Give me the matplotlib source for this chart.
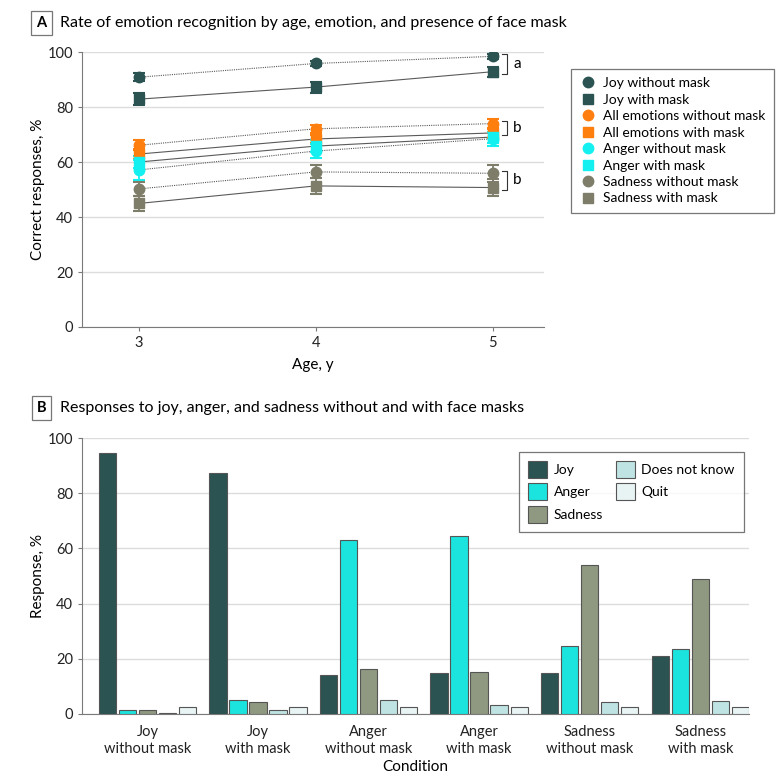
import matplotlib
matplotlib.use("Agg")
import matplotlib.pyplot as plt
import numpy as np

plt.rcParams["font.family"] = ["Lato", "DejaVu Sans"]

# Panel A data: correct responses (%) by age
ages = [3, 4, 5]
series_names = [
    "Joy without mask", "Joy with mask",
    "All emotions without mask", "All emotions with mask",
    "Anger without mask", "Anger with mask",
    "Sadness without mask", "Sadness with mask",
]
joy_no_mask = [91.0, 96.0, 98.6]
joy_mask = [83.0, 87.4, 93.0]
all_no_mask = [66.2, 72.2, 74.1]
all_mask = [63.0, 68.5, 70.7]
anger_no_mask = [57.2, 64.1, 68.6]
anger_mask = [60.1, 65.9, 69.2]
sad_no_mask = [50.3, 56.5, 56.0]
sad_mask = [45.0, 51.4, 50.8]

joy_no_mask_err = [1.5, 1.0, 1.0]
joy_mask_err = [2.2, 2.0, 1.8]
all_no_mask_err = [1.8, 1.5, 1.8]
all_mask_err = [1.8, 1.5, 1.8]
anger_no_mask_err = [3.6, 2.6, 2.6]
anger_mask_err = [2.2, 2.2, 2.0]
sad_no_mask_err = [2.4, 2.4, 3.0]
sad_mask_err = [2.7, 2.8, 3.2]

# Panel B data: response distribution (%) by condition
conditions = ["Joy\nwithout mask", "Joy\nwith mask", "Anger\nwithout mask",
              "Anger\nwith mask", "Sadness\nwithout mask", "Sadness\nwith mask"]
resp_joy = [94.8, 87.3, 13.9, 14.8, 14.8, 20.8]
resp_anger = [1.2, 4.9, 63.0, 64.5, 24.6, 23.6]
resp_sadness = [1.2, 4.1, 16.2, 15.0, 54.0, 48.8]
resp_dnk = [0.4, 1.3, 5.0, 3.2, 4.4, 4.6]
resp_quit = [2.3, 2.3, 2.3, 2.3, 2.3, 2.3]
response_names = ["Joy", "Anger", "Sadness", "Does not know", "Quit"]

JOY = "#2a5352"
ORANGE = "#ff7f0e"
CYAN = "#14f0f0"
SAD = "#7d7d6a"
GRID = "#dcdcdc"
SPINE = "#7a7a7a"
LINE = "#5a5a5a"

fig = plt.figure(figsize=(7.8, 7.82), dpi=100)


def panel_label(y, letter, text):
    fig.text(41.5 / 780, y, letter, ha="center", va="center", fontsize=10.5, fontweight="bold",
             bbox=dict(boxstyle="square,pad=0.35", fc="white", ec="#777777", lw=0.9))
    fig.text(60 / 780, y, text, ha="left", va="center", fontsize=11.5)


def style_axes(ax):
    ax.spines["top"].set_visible(False)
    ax.spines["right"].set_visible(False)
    ax.spines["left"].set_color(SPINE)
    ax.spines["bottom"].set_color(SPINE)
    ax.tick_params(colors=SPINE, labelcolor="#222222", labelsize=10.5, length=3)
    ax.set_ylim(0, 100)
    ax.set_yticks(range(0, 101, 20))
    ax.yaxis.grid(True, color=GRID, lw=1)
    ax.set_axisbelow(True)


# ---------------- Panel A ----------------
panel_label(1 - 23 / 782, "A", "Rate of emotion recognition by age, emotion, and presence of face mask")
axA = fig.add_axes([82 / 780, 1 - 327 / 782, 462 / 780, 274.5 / 782])
style_axes(axA)

panel_series = [
    (joy_no_mask, joy_no_mask_err, JOY, "o", ":"),
    (joy_mask, joy_mask_err, JOY, "s", "-"),
    (all_no_mask, all_no_mask_err, ORANGE, "o", ":"),
    (all_mask, all_mask_err, ORANGE, "s", "-"),
    (anger_no_mask, anger_no_mask_err, CYAN, "o", ":"),
    (anger_mask, anger_mask_err, CYAN, "s", "-"),
    (sad_no_mask, sad_no_mask_err, SAD, "o", ":"),
    (sad_mask, sad_mask_err, SAD, "s", "-"),
]

handles = []
for name, (vals, err, color, marker, ls) in zip(series_names, panel_series):
    axA.plot(ages, vals, color=LINE, lw=0.8, linestyle=(0, (1, 1)) if ls == ":" else "-", zorder=2)
    axA.errorbar(ages, vals, yerr=err, fmt="none", ecolor=color, elinewidth=1.3,
                 capsize=4.5, capthick=1.5, zorder=3)
    h, = axA.plot(ages, vals, linestyle="none", marker=marker, color=color,
                  markersize=7.5 if marker == "o" else 7, zorder=4, label=name)
    handles.append(h)

# significance brackets at age 5
brackets = [(joy_no_mask, joy_mask, "a"), (all_no_mask, all_mask, "b"), (sad_no_mask, sad_mask, "b")]
for top, bot, lab in brackets:
    y1 = top[-1] + 0.8
    y2 = bot[-1] - 0.8
    x0, x1 = ages[-1] + 0.055, ages[-1] + 0.08
    axA.plot([x0, x1, x1, x0], [y1, y1, y2, y2], color="#333333", lw=0.8, clip_on=False)
    axA.text(x1 + 0.035, (y1 + y2) / 2, lab, ha="left", va="center", fontsize=11)

axA.set_xlim(2.68, 5.29)
axA.set_xticks(ages)
axA.set_xlabel("Age, y", fontsize=11, labelpad=6)
axA.set_ylabel("Correct responses, %", fontsize=11, labelpad=2)

legA = fig.legend(handles=handles, loc="upper left", bbox_to_anchor=(571 / 780, 1 - 69 / 782),
                  fontsize=10, frameon=True, fancybox=False, edgecolor="#555555",
                  labelspacing=0.32, handletextpad=0.5, borderpad=0.6, handlelength=1.2,
                  borderaxespad=0)
legA.get_frame().set_linewidth(0.9)

# ---------------- Panel B ----------------
panel_label(1 - 408 / 782, "B", "Responses to joy, anger, and sadness without and with face masks")
axB = fig.add_axes([82 / 780, 1 - 713.7 / 782, 667 / 780, 275.4 / 782])
style_axes(axB)

resp_series = [resp_joy, resp_anger, resp_sadness, resp_dnk, resp_quit]
resp_colors = [JOY, "#1be3dd", "#8f9880", "#bfe3e3", "#e8f3f3"]
x = np.arange(len(conditions))
pitch = 0.181
width = 0.157
for j, (vals, color, name) in enumerate(zip(resp_series, resp_colors, response_names)):
    axB.bar(x + (j - 2) * pitch, vals, width=width, color=color, edgecolor="#555555",
            linewidth=0.8, label=name, zorder=3)

axB.set_xlim(-0.591, 5.44)
axB.set_xticks(x)
axB.set_xticklabels(conditions, fontsize=10.5, linespacing=1.3)
axB.tick_params(axis="x", length=0, pad=8)
axB.set_xlabel("Condition", fontsize=11, labelpad=3)
axB.set_ylabel("Response, %", fontsize=11, labelpad=2)

legB = axB.legend(loc="upper left", bbox_to_anchor=(519 / 780, 1 - 451.7 / 782),
                  bbox_transform=fig.transFigure, ncol=2, fontsize=10, frameon=True,
                  fancybox=False, edgecolor="#555555", handlelength=1.4, handleheight=1.5,
                  labelspacing=0.4, columnspacing=0.9, handletextpad=0.45, borderpad=0.65,
                  borderaxespad=0)
legB.get_frame().set_linewidth(0.9)

fig.savefig("out.png", dpi=100)
